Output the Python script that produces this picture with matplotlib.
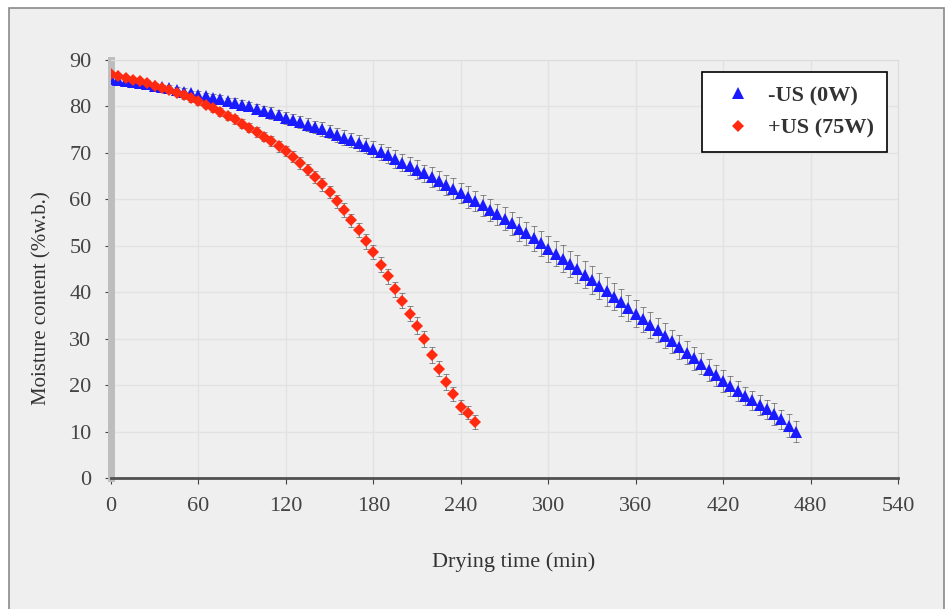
"""
Drying curves: moisture content vs drying time with and without ultrasound.
"""
import matplotlib
matplotlib.use('Agg')
import matplotlib.pyplot as plt
from matplotlib.patches import Rectangle

# -US (0W): 5-min readings, 0..470 min
time_us0 = list(range(0, 475, 5))
moist_us0 = [
    86.0, 85.8, 85.5, 85.3, 85.0, 84.8, 84.5, 84.2, 83.9, 83.5,
    83.2, 82.8, 82.5, 82.2, 81.8, 81.5, 81.1, 80.8, 80.4, 80.0,
    79.5, 79.0, 78.6, 78.1, 77.6, 77.1, 76.6, 76.1, 75.6, 75.1,
    74.5, 73.9, 73.3, 72.7, 72.1, 71.5, 70.9, 70.2, 69.5, 68.7,
    67.9, 67.2, 66.4, 65.6, 64.8, 64.0, 63.1, 62.3, 61.4, 60.5,
    59.6, 58.7, 57.7, 56.8, 55.8, 54.8, 53.7, 52.7, 51.6, 50.5,
    49.4, 48.3, 47.2, 46.1, 45.0, 43.8, 42.6, 41.4, 40.2, 39.0,
    37.8, 36.6, 35.4, 34.2, 33.0, 31.8, 30.6, 29.4, 28.2, 27.0,
    25.8, 24.6, 23.3, 22.1, 20.9, 19.8, 18.7, 17.7, 16.7, 15.7,
    14.8, 13.8, 12.6, 11.3, 10.0,
]
err_us0 = [
    0.3, 0.4, 0.3, 0.5, 0.4, 0.5, 0.6, 0.5, 0.7, 0.6,
    0.7, 0.6, 0.8, 0.7, 0.8, 0.9, 0.8, 1.0, 0.9, 1.0,
    1.1, 1.0, 1.2, 1.1, 1.3, 1.2, 1.3, 1.4, 1.3, 1.5,
    1.4, 1.5, 1.6, 1.5, 1.7, 1.6, 1.7, 1.8, 1.7, 1.9,
    1.8, 1.9, 2.0, 1.9, 2.1, 2.0, 2.1, 2.2, 2.1, 2.3,
    2.2, 2.3, 2.4, 2.3, 2.5, 2.4, 2.6, 2.5, 2.7, 2.6,
    2.8, 2.7, 2.9, 2.8, 3.0, 2.9, 3.0, 2.8, 3.1, 2.9,
    3.0, 2.8, 2.9, 2.7, 2.8, 2.6, 2.7, 2.5, 2.6, 2.4,
    2.5, 2.3, 2.4, 2.2, 2.3, 2.1, 2.2, 2.0, 2.1, 2.2,
    2.0, 2.3, 2.1, 2.4, 2.2,
]

# +US (75W): 5-min readings, 0..250 min
time_us75 = list(range(0, 255, 5))
moist_us75 = [
    87.0, 86.6, 86.2, 85.8, 85.4, 85.0, 84.5, 84.0, 83.5, 83.0,
    82.4, 81.8, 81.1, 80.4, 79.6, 78.8, 78.0, 77.2, 76.3, 75.4,
    74.5, 73.5, 72.5, 71.4, 70.4, 69.2, 67.8, 66.4, 64.9, 63.2,
    61.5, 59.6, 57.7, 55.5, 53.3, 51.0, 48.6, 45.9, 43.4, 40.6,
    38.2, 35.4, 32.8, 30.0, 26.5, 23.5, 20.6, 18.0, 15.3, 14.0,
    12.0,
]
err_us75 = [
    0.3, 0.4, 0.4, 0.5, 0.5, 0.6, 0.5, 0.6, 0.7, 0.6,
    0.7, 0.8, 0.7, 0.8, 0.9, 0.8, 0.9, 1.0, 0.9, 1.0,
    1.1, 1.0, 1.1, 1.2, 1.1, 1.2, 1.3, 1.2, 1.3, 1.4,
    1.3, 1.4, 1.5, 1.4, 1.5, 1.6, 1.5, 1.6, 1.7, 1.6,
    1.7, 1.6, 1.8, 1.7, 1.8, 1.6, 1.7, 1.5, 1.6, 1.4,
    1.5,
]

x_ticks = [0, 60, 120, 180, 240, 300, 360, 420, 480, 540]
y_ticks = [0, 10, 20, 30, 40, 50, 60, 70, 80, 90]

plt.rcParams['font.family'] = ['Liberation Serif', 'DejaVu Serif']

bg = '#efefef'
fig = plt.figure(figsize=(9.5, 6.09), dpi=100, facecolor='white')

# gray frame around the chart area (behind the axes)
fig.patches.append(Rectangle((9 / 950, -0.05), 935 / 950, 1 - 8 / 609 + 0.05,
                             transform=fig.transFigure, facecolor=bg,
                             edgecolor='#8a8a8a', linewidth=1.2, zorder=-10))

ax = fig.add_axes([111 / 950, 1 - 478 / 609, 787 / 950, 418 / 609])
ax.set_facecolor(bg)

# Error bars first so markers sit on top
ax.errorbar(time_us0, moist_us0, yerr=err_us0, fmt='none', ecolor='#444444',
            elinewidth=0.7, capsize=2, capthick=0.7, alpha=0.6, zorder=2)
ax.errorbar(time_us75, moist_us75, yerr=err_us75, fmt='none', ecolor='#444444',
            elinewidth=0.7, capsize=2, capthick=0.7, alpha=0.6, zorder=2)

ax.plot(time_us0, moist_us0, linestyle='none', marker='^', markersize=8,
        color='#1a1aff', markeredgewidth=0, label='-US (0W)', zorder=3)
ax.plot(time_us75, moist_us75, linestyle='none', marker='D', markersize=6.5,
        color='#ff2a10', markeredgewidth=0, label='+US (75W)', zorder=4)

ax.set_xlim(0, 540)
ax.set_ylim(0, 90)
ax.set_xticks(x_ticks)
ax.set_yticks(y_ticks)
ax.tick_params(axis='both', labelsize=16, colors='#444444', length=4,
               direction='out', pad=10)

ax.set_xlabel('Drying time (min)', fontsize=16, color='#333333')
ax.set_ylabel('Moisture content (%w.b.)', fontsize=15, color='#333333')
ax.xaxis.set_label_coords(0.511, -0.177)
ax.yaxis.set_label_coords(-0.075, 0.43)

# Grid
ax.grid(True, color='#e2e2e2', linewidth=1.0)
ax.set_axisbelow(True)

# Spines: thick light-gray left, dark bottom, faint top/right
ax.spines['left'].set_color('#bdbdbd')
ax.spines['left'].set_linewidth(5)
ax.spines['bottom'].set_color('#505050')
ax.spines['bottom'].set_linewidth(2)
ax.spines['top'].set_color('#dcdcdc')
ax.spines['right'].set_color('#dcdcdc')

leg = ax.legend(loc='upper right', bbox_to_anchor=(0.986, 0.971), fontsize=16,
                frameon=True, fancybox=False, edgecolor='black',
                facecolor='white', framealpha=1, handletextpad=0.35,
                borderpad=0.6, labelspacing=0.55, handlelength=2.0,
                borderaxespad=0)
leg.get_frame().set_linewidth(1.2)
for text in leg.get_texts():
    text.set_fontweight('bold')
    text.set_color('#333333')

plt.savefig('out.png', dpi=100, facecolor=fig.get_facecolor())
plt.close()
